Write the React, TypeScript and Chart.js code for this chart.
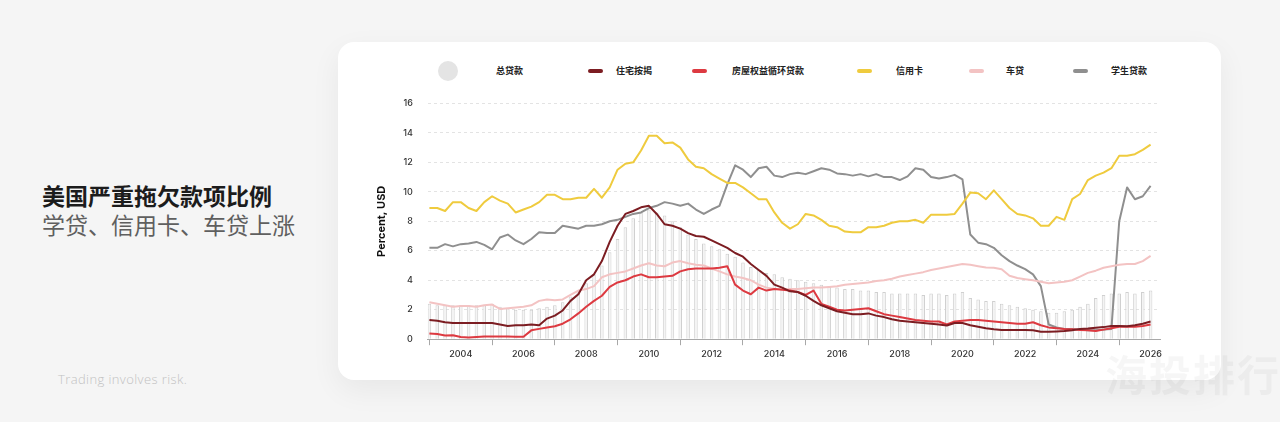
import React, { useEffect, useRef } from 'react';
import { Chart, registerables } from 'chart.js';

Chart.register(...registerables);

const QUARTERS = [
  '2003Q1', '2003Q2', '2003Q3', '2003Q4',
  '2004Q1', '2004Q2', '2004Q3', '2004Q4',
  '2005Q1', '2005Q2', '2005Q3', '2005Q4',
  '2006Q1', '2006Q2', '2006Q3', '2006Q4',
  '2007Q1', '2007Q2', '2007Q3', '2007Q4',
  '2008Q1', '2008Q2', '2008Q3', '2008Q4',
  '2009Q1', '2009Q2', '2009Q3', '2009Q4',
  '2010Q1', '2010Q2', '2010Q3', '2010Q4',
  '2011Q1', '2011Q2', '2011Q3', '2011Q4',
  '2012Q1', '2012Q2', '2012Q3', '2012Q4',
  '2013Q1', '2013Q2', '2013Q3', '2013Q4',
  '2014Q1', '2014Q2', '2014Q3', '2014Q4',
  '2015Q1', '2015Q2', '2015Q3', '2015Q4',
  '2016Q1', '2016Q2', '2016Q3', '2016Q4',
  '2017Q1', '2017Q2', '2017Q3', '2017Q4',
  '2018Q1', '2018Q2', '2018Q3', '2018Q4',
  '2019Q1', '2019Q2', '2019Q3', '2019Q4',
  '2020Q1', '2020Q2', '2020Q3', '2020Q4',
  '2021Q1', '2021Q2', '2021Q3', '2021Q4',
  '2022Q1', '2022Q2', '2022Q3', '2022Q4',
  '2023Q1', '2023Q2', '2023Q3', '2023Q4',
  '2024Q1', '2024Q2', '2024Q3', '2024Q4',
  '2025Q1', '2025Q2', '2025Q3', '2025Q4',
  '2026Q1',
];

// 总贷款 (bars)
const TOTAL = [
  2.4, 2.3, 2.3, 2.3, 2.3, 2.3, 2.3, 2.3, 2.4, 2.2, 2.1, 2.0,
  2.0, 2.0, 2.1, 2.2, 2.3, 2.5, 2.9, 3.3, 3.8, 4.4, 5.0, 5.9,
  6.8, 7.6, 8.2, 8.6, 8.8, 8.6, 8.4, 8.0, 7.6, 7.1, 6.8, 6.5,
  6.3, 6.1, 5.8, 5.6, 5.2, 4.9, 4.7, 4.5, 4.4, 4.2, 4.1, 4.0,
  3.9, 3.8, 3.7, 3.6, 3.5, 3.4, 3.4, 3.3, 3.3, 3.2, 3.2, 3.1,
  3.1, 3.1, 3.1, 3.0, 3.1, 3.1, 3.0, 3.1, 3.2, 2.8, 2.7, 2.6,
  2.6, 2.4, 2.3, 2.2, 2.1, 2.0, 1.9, 1.8, 1.8, 1.9, 2.0, 2.2,
  2.4, 2.8, 3.0, 3.1, 3.1, 3.2, 3.1, 3.2, 3.3,
];

// 住宅按揭
const MORTGAGE = [
  1.3, 1.25, 1.15, 1.1, 1.1, 1.1, 1.1, 1.1, 1.1, 1.0, 0.9, 0.95,
  0.95, 1.0, 0.95, 1.4, 1.6, 1.95, 2.6, 3.05, 4.0, 4.4, 5.3, 6.6,
  7.7, 8.5, 8.7, 8.95, 9.05, 8.5, 7.8, 7.7, 7.5, 7.2, 7.0, 6.95,
  6.7, 6.45, 6.2, 5.85, 5.6, 5.1, 4.7, 4.3, 3.7, 3.5, 3.25, 3.2,
  2.95, 2.6, 2.3, 2.1, 1.9, 1.8, 1.7, 1.7, 1.75, 1.6, 1.5, 1.35,
  1.25, 1.2, 1.15, 1.1, 1.05, 1.0, 0.93, 1.1, 1.1, 0.95, 0.85, 0.75,
  0.68, 0.63, 0.63, 0.63, 0.62, 0.6, 0.5, 0.5, 0.52, 0.55, 0.6, 0.7,
  0.73, 0.78, 0.82, 0.9, 0.9, 0.88, 0.95, 1.05, 1.2,
];

// 房屋权益循环贷款
const HELOC = [
  0.38, 0.35, 0.25, 0.27, 0.15, 0.12, 0.15, 0.18, 0.18, 0.18, 0.18, 0.17,
  0.16, 0.6, 0.7, 0.8, 0.88, 1.05, 1.35, 1.75, 2.2, 2.6, 2.95, 3.55,
  3.85, 4.0, 4.25, 4.4, 4.2, 4.2, 4.25, 4.3, 4.6, 4.75, 4.8, 4.8,
  4.8, 4.85, 4.95, 3.7, 3.3, 3.05, 3.5, 3.3, 3.4, 3.35, 3.3, 3.2,
  3.0, 3.3, 2.4, 2.2, 2.0, 1.95, 2.0, 2.05, 2.1, 1.9, 1.7, 1.6,
  1.5, 1.4, 1.3, 1.25, 1.2, 1.2, 1.0, 1.2, 1.25, 1.3, 1.3, 1.25,
  1.2, 1.15, 1.1, 1.05, 1.05, 1.15, 0.95, 0.8, 0.75, 0.7, 0.68, 0.63,
  0.6, 0.55, 0.65, 0.75, 0.85, 0.85, 0.85, 0.9, 1.0,
];

// 信用卡
const CREDIT_CARD = [
  8.9, 8.9, 8.7, 9.3, 9.3, 8.9, 8.7, 9.3, 9.7, 9.4, 9.2, 8.6,
  8.8, 9.0, 9.3, 9.8, 9.8, 9.5, 9.5, 9.6, 9.6, 10.2, 9.6, 10.3,
  11.5, 11.9, 12.0, 12.8, 13.8, 13.8, 13.3, 13.35, 13.0, 12.2, 11.7, 11.6,
  11.2, 10.9, 10.6, 10.6, 10.3, 9.9, 9.5, 9.5, 8.6, 7.9, 7.5, 7.8,
  8.5, 8.4, 8.1, 7.7, 7.6, 7.3, 7.25, 7.25, 7.6, 7.6, 7.7, 7.9,
  8.0, 8.0, 8.1, 7.9, 8.45, 8.45, 8.45, 8.5, 9.2, 9.95, 9.9, 9.5,
  10.1, 9.5, 8.9, 8.5, 8.4, 8.2, 7.7, 7.7, 8.3, 8.1, 9.5, 9.85,
  10.8, 11.1, 11.3, 11.6, 12.45, 12.45, 12.55, 12.85, 13.2,
];

// 车贷
const AUTO = [
  2.5, 2.4, 2.3, 2.2, 2.25, 2.25, 2.2, 2.3, 2.35, 2.05, 2.1, 2.15,
  2.2, 2.3, 2.6, 2.7, 2.65, 2.7, 3.0, 3.3, 3.4, 3.6, 4.2, 4.4,
  4.5, 4.6, 4.8, 5.0, 5.15, 5.0, 4.95, 5.2, 5.3, 5.15, 5.05, 5.0,
  4.8, 4.6, 4.4, 4.25, 4.15, 4.0, 3.7, 3.5, 3.4, 3.4, 3.4, 3.4,
  3.45, 3.5, 3.5, 3.55, 3.6, 3.7, 3.75, 3.8, 3.85, 3.95, 4.0, 4.1,
  4.25, 4.35, 4.45, 4.55, 4.7, 4.8, 4.9, 5.0, 5.1, 5.05, 4.95, 4.86,
  4.85, 4.75, 4.3, 4.15, 4.07, 4.0, 3.9, 3.8, 3.85, 3.9, 4.0, 4.25,
  4.5, 4.65, 4.85, 4.95, 5.05, 5.1, 5.1, 5.3, 5.65,
];

// 学生贷款
const STUDENT = [
  6.2, 6.2, 6.45, 6.3, 6.45, 6.5, 6.6, 6.4, 6.1, 6.9, 7.1, 6.7,
  6.45, 6.8, 7.25, 7.2, 7.2, 7.7, 7.6, 7.5, 7.7, 7.7, 7.8, 8.0,
  8.1, 8.3, 8.5, 8.6, 8.9, 9.05, 9.3, 9.2, 9.05, 9.2, 8.8, 8.5,
  8.8, 9.05, 10.5, 11.8, 11.5, 11.0, 11.6, 11.7, 11.1, 11.0, 11.2, 11.3,
  11.2, 11.4, 11.6, 11.5, 11.25, 11.2, 11.1, 11.2, 11.05, 11.2, 11.0, 11.0,
  10.8, 11.05, 11.6, 11.5, 11.0, 10.9, 11.0, 11.15, 10.85, 7.1, 6.55, 6.45,
  6.2, 5.7, 5.3, 5.0, 4.75, 4.4, 3.6, 1.0, 0.8, 0.7, 0.7, 0.65,
  0.6, 0.6, 0.65, 0.7, 8.0, 10.3, 9.5, 9.7, 10.4,
];

const X_TICKS = [2004, 2006, 2008, 2010, 2012, 2014, 2016, 2018, 2020, 2022, 2024, 2026];
const X_TICK_LABELS = ['2004', '2006', '2008', '2010', '2012', '2014', '2016', '2018', '2020', '2022', '2024', '2026'];
const Y_MIN = 0;
const Y_MAX = 16;
const Y_STEP = 2;

const TITLE_MAIN = '美国严重拖欠款项比例';
const TITLE_SUB = '学贷、信用卡、车贷上涨';
const Y_TITLE = 'Percent, USD';
const DISCLAIMER = 'Trading involves risk.';
const WATERMARK = '海投排行';

const COLORS = {
  total: '#e4e4e4',
  mortgage: '#7c1d22',
  heloc: '#dd3a41',
  card: '#efcb3e',
  auto: '#f3c3c3',
  student: '#8f8f8f',
};

const LEGEND = [
  { label: '总贷款', color: COLORS.total, kind: 'circle', markerLeft: 438, labelLeft: 496 },
  { label: '住宅按揭', color: COLORS.mortgage, kind: 'line', markerLeft: 588, labelLeft: 616 },
  { label: '房屋权益循环贷款', color: COLORS.heloc, kind: 'line', markerLeft: 692, labelLeft: 732 },
  { label: '信用卡', color: COLORS.card, kind: 'line', markerLeft: 857, labelLeft: 896 },
  { label: '车贷', color: COLORS.auto, kind: 'line', markerLeft: 969, labelLeft: 1006 },
  { label: '学生贷款', color: COLORS.student, kind: 'line', markerLeft: 1073, labelLeft: 1111 },
];

const CJK = '"Noto Sans CJK SC", "Noto Sans", sans-serif';
const NUM_FONT = 'Inter, "Noto Sans", sans-serif';

function quarterToYear(q: string): number {
  const [y, qq] = q.split('Q');
  return Number(y) + (Number(qq) - 1) / 4;
}

function points(values: number[]) {
  return values.map((v, i) => ({ x: quarterToYear(QUARTERS[i]), y: v }));
}

function DelinquencyChart() {
  const ref = useRef<HTMLCanvasElement | null>(null);

  useEffect(() => {
    if (!ref.current) return;
    const lineBase = {
      type: 'line' as const,
      pointRadius: 0,
      borderWidth: 2,
      tension: 0,
      fill: false,
      borderJoinStyle: 'round' as const,
    };
    const chart = new Chart(ref.current, {
      type: 'bar',
      data: {
        datasets: [
          { ...lineBase, label: '住宅按揭', data: points(MORTGAGE), borderColor: COLORS.mortgage, order: 1 },
          { ...lineBase, label: '房屋权益循环贷款', data: points(HELOC), borderColor: COLORS.heloc, order: 2 },
          { ...lineBase, label: '车贷', data: points(AUTO), borderColor: COLORS.auto, order: 3 },
          { ...lineBase, label: '信用卡', data: points(CREDIT_CARD), borderColor: COLORS.card, order: 4 },
          { ...lineBase, label: '学生贷款', data: points(STUDENT), borderColor: COLORS.student, order: 5 },
          {
            type: 'bar',
            label: '总贷款',
            data: points(TOTAL),
            backgroundColor: 'rgba(244,244,244,1)',
            borderColor: '#d0d0d0',
            borderWidth: 1,
            barPercentage: 0.45,
            categoryPercentage: 1,
            order: 10,
          },
        ] as any,
      },
      options: {
        animation: false,
        responsive: true,
        maintainAspectRatio: false,
        layout: { padding: { top: 1, right: 8, left: 0, bottom: 0 } },
        plugins: { legend: { display: false }, tooltip: { enabled: false } },
        scales: {
          x: {
            type: 'linear',
            min: 2002.95,
            max: 2026.3,
            offset: false,
            afterBuildTicks: (scale: any) => {
              scale.ticks = X_TICKS.map((v) => ({ value: v }));
            },
            ticks: {
              autoSkip: false,
              maxRotation: 0,
              padding: 4,
              color: '#333',
              font: { size: 9, family: NUM_FONT, weight: 500 },
              callback: (v: any) => {
                const i = X_TICKS.indexOf(Number(v));
                return i >= 0 ? X_TICK_LABELS[i] : '';
              },
            },
            grid: { drawOnChartArea: false, drawTicks: true, tickLength: 6, color: '#a8a8a8' },
            border: { display: true, color: '#a8a8a8' },
          },
          y: {
            min: Y_MIN,
            max: Y_MAX,
            ticks: {
              stepSize: Y_STEP,
              padding: 15,
              color: '#333',
              font: { size: 9, family: NUM_FONT, weight: 500 },
            },
            grid: { color: '#e3e3e3', drawTicks: false },
            border: { display: false, dash: [3, 3] },
            title: {
              display: true,
              text: Y_TITLE,
              color: '#111',
              font: { size: 11, family: NUM_FONT, weight: 'bold' },
              padding: { top: 4, bottom: 0 },
            },
          },
        },
      } as any,
    });
    return () => chart.destroy();
  }, []);

  return (
    <div style={{ position: 'absolute', left: 371, top: 83, width: 797, height: 281 }}>
      <canvas ref={ref} />
    </div>
  );
}

export default function App() {
  return (
    <div
      style={{
        position: 'fixed',
        left: 0,
        top: 0,
        width: 1280,
        height: 422,
        background: '#f5f5f5',
        overflow: 'hidden',
        fontFamily: CJK,
      }}
    >
      <div style={{ position: 'absolute', left: 42, top: 180, fontSize: 23, fontWeight: 700, color: '#1c1c1c', lineHeight: '30px', whiteSpace: 'nowrap' }}>
        {TITLE_MAIN}
      </div>
      <div style={{ position: 'absolute', left: 42, top: 209, fontSize: 23, fontWeight: 400, color: '#5f5f5f', lineHeight: '30px', whiteSpace: 'nowrap' }}>
        {TITLE_SUB}
      </div>
      <div style={{ position: 'absolute', left: 58, top: 370, fontSize: 13, color: '#c2c2c2', fontFamily: '"Open Sans", "Noto Sans", sans-serif', fontWeight: 300, letterSpacing: 0.4, whiteSpace: 'nowrap' }}>
        {DISCLAIMER}
      </div>
      <div
        style={{
          position: 'absolute',
          left: 338,
          top: 42,
          width: 883,
          height: 338,
          background: '#ffffff',
          borderRadius: 16,
          boxShadow: '0 10px 30px rgba(0,0,0,0.06)',
        }}
      />
      {LEGEND.map((item) => (
        <React.Fragment key={item.label}>
          {item.kind === 'circle' ? (
            <div style={{ position: 'absolute', left: item.markerLeft, top: 61, width: 20, height: 20, borderRadius: 10, background: item.color }} />
          ) : (
            <div style={{ position: 'absolute', left: item.markerLeft, top: 69, width: 15, height: 4, borderRadius: 2, background: item.color }} />
          )}
          <div style={{ position: 'absolute', left: item.labelLeft, top: 64, fontSize: 9, fontWeight: 700, color: '#222', lineHeight: '14px', whiteSpace: 'nowrap' }}>
            {item.label}
          </div>
        </React.Fragment>
      ))}
      <DelinquencyChart />
      <div style={{ position: 'absolute', left: 1105, top: 342, fontSize: 42, fontWeight: 700, color: 'rgba(0,0,0,0.035)', whiteSpace: 'nowrap', letterSpacing: 2 }}>
        {WATERMARK}
      </div>
    </div>
  );
}
